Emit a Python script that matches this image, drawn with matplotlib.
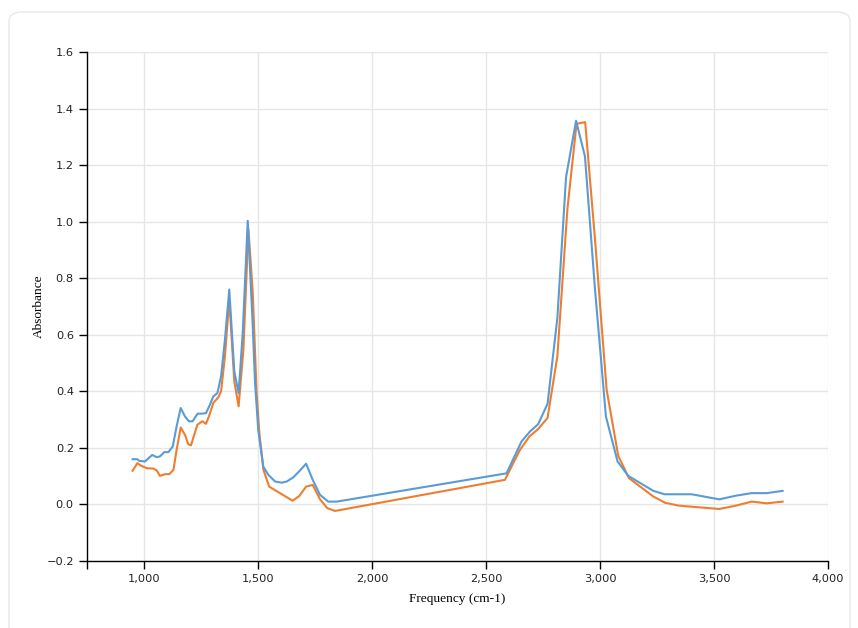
import matplotlib
matplotlib.use("Agg")
import matplotlib.pyplot as plt
from matplotlib.patches import FancyBboxPatch
from matplotlib.ticker import FuncFormatter, FixedLocator

blue_x = [950, 971, 979, 1004, 1036, 1056, 1070, 1089, 1107, 1126, 1143, 1161, 1180, 1197, 1213,
          1235, 1253, 1272, 1286, 1304, 1322, 1338, 1355, 1374, 1396, 1415, 1433, 1455, 1477, 1487,
          1501, 1523, 1545, 1575, 1604, 1626, 1655, 1684, 1711, 1740, 1772, 1808, 1845, 2590, 2656,
          2693, 2729, 2770, 2813, 2851, 2895, 2934, 2978, 3026, 3077, 3124, 3234, 3283, 3402, 3523,
          3596, 3665, 3731, 3801]
blue_y = [0.16, 0.16, 0.154, 0.152, 0.175, 0.167, 0.17, 0.185, 0.185, 0.205, 0.276, 0.341, 0.311,
          0.294, 0.294, 0.321, 0.321, 0.323, 0.347, 0.382, 0.394, 0.453, 0.583, 0.76, 0.471, 0.394,
          0.607, 1.003, 0.63, 0.43, 0.264, 0.134, 0.105, 0.081, 0.077, 0.081, 0.096, 0.12, 0.144,
          0.087, 0.034, 0.01, 0.01, 0.11, 0.223, 0.258, 0.284, 0.356, 0.66, 1.157, 1.357, 1.231,
          0.761, 0.311, 0.152, 0.101, 0.048, 0.036, 0.036, 0.018, 0.031, 0.04, 0.04, 0.048]

orange_x = [950, 971, 985, 1012, 1041, 1056, 1070, 1092, 1111, 1129, 1143, 1161, 1180, 1194, 1206,
            1234, 1256, 1272, 1286, 1304, 1326, 1338, 1355, 1374, 1396, 1415, 1436, 1458, 1477, 1494,
            1506, 1524, 1549, 1652, 1681, 1711, 1740, 1772, 1804, 1838, 2583, 2649, 2690, 2729, 2770,
            2813, 2857, 2897, 2935, 2978, 3029, 3080, 3127, 3234, 3285, 3344, 3402, 3523, 3592, 3665,
            3731, 3801]
orange_y = [0.119, 0.146, 0.138, 0.128, 0.127, 0.12, 0.101, 0.107, 0.107, 0.122, 0.193, 0.272, 0.246,
            0.213, 0.209, 0.282, 0.294, 0.285, 0.314, 0.359, 0.379, 0.4, 0.524, 0.725, 0.435, 0.347,
            0.548, 0.973, 0.749, 0.394, 0.252, 0.122, 0.063, 0.013, 0.03, 0.063, 0.069, 0.018, -0.013,
            -0.023, 0.087, 0.193, 0.24, 0.267, 0.306, 0.524, 1.044, 1.346, 1.352, 0.938, 0.406, 0.172,
            0.093, 0.028, 0.006, -0.004, -0.008, -0.016, -0.005, 0.01, 0.004, 0.01]

x_ticks = [1000, 1500, 2000, 2500, 3000, 3500, 4000]
y_ticks = [-0.2, 0.0, 0.2, 0.4, 0.6, 0.8, 1.0, 1.2, 1.4, 1.6]
x_label = "Frequency (cm-1)"
y_label = "Absorbance"

fig = plt.figure(figsize=(8.58, 6.28), dpi=100)
fig.patch.set_facecolor("white")
card = FancyBboxPatch((9 / 858, -20 / 628), 841 / 858, (628 - 12 + 20) / 628,
                      boxstyle="round,pad=0,rounding_size=0.015", transform=fig.transFigure,
                      facecolor="white", edgecolor="#e8e8e8", linewidth=1.0, zorder=-10)
fig.patches.append(card)

ax = fig.add_axes([87 / 858, (628 - 561) / 628, (828 - 87) / 858, (561 - 52) / 628])
ax.set_zorder(5)
ax.set_facecolor("none")
ax.plot(blue_x, blue_y, color="#5B9BD5", lw=1.5, zorder=3)
ax.plot(orange_x, orange_y, color="#ED7D31", lw=1.5, zorder=2)

ax.set_xlim(750, 4000)
ax.set_ylim(-0.2, 1.6)
ax.xaxis.set_major_locator(FixedLocator(x_ticks))
ax.xaxis.set_minor_locator(FixedLocator([750]))
ax.yaxis.set_major_locator(FixedLocator(y_ticks))
ax.xaxis.set_major_formatter(FuncFormatter(lambda v, p: f"{v:,.0f}"))
ax.yaxis.set_major_formatter(FuncFormatter(lambda v, p: f"{v:.1f}".replace("-", "\u2212")))
ax.grid(True, color="#e6e6e6", lw=1.0, zorder=0)
for s in ["top", "right"]:
    ax.spines[s].set_visible(False)
for s in ["left", "bottom"]:
    ax.spines[s].set_color("black")
    ax.spines[s].set_linewidth(1.0)
ax.tick_params(which="both", direction="out", length=6, width=1, color="black",
               labelsize=8.2, labelcolor="#222222", pad=3.5)
ax.set_xlabel(x_label, family="Liberation Serif", fontsize=9.6, labelpad=6)
ax.set_ylabel(y_label, family="Liberation Serif", fontsize=9.6, labelpad=1)

fig.savefig("out.png", dpi=100)
